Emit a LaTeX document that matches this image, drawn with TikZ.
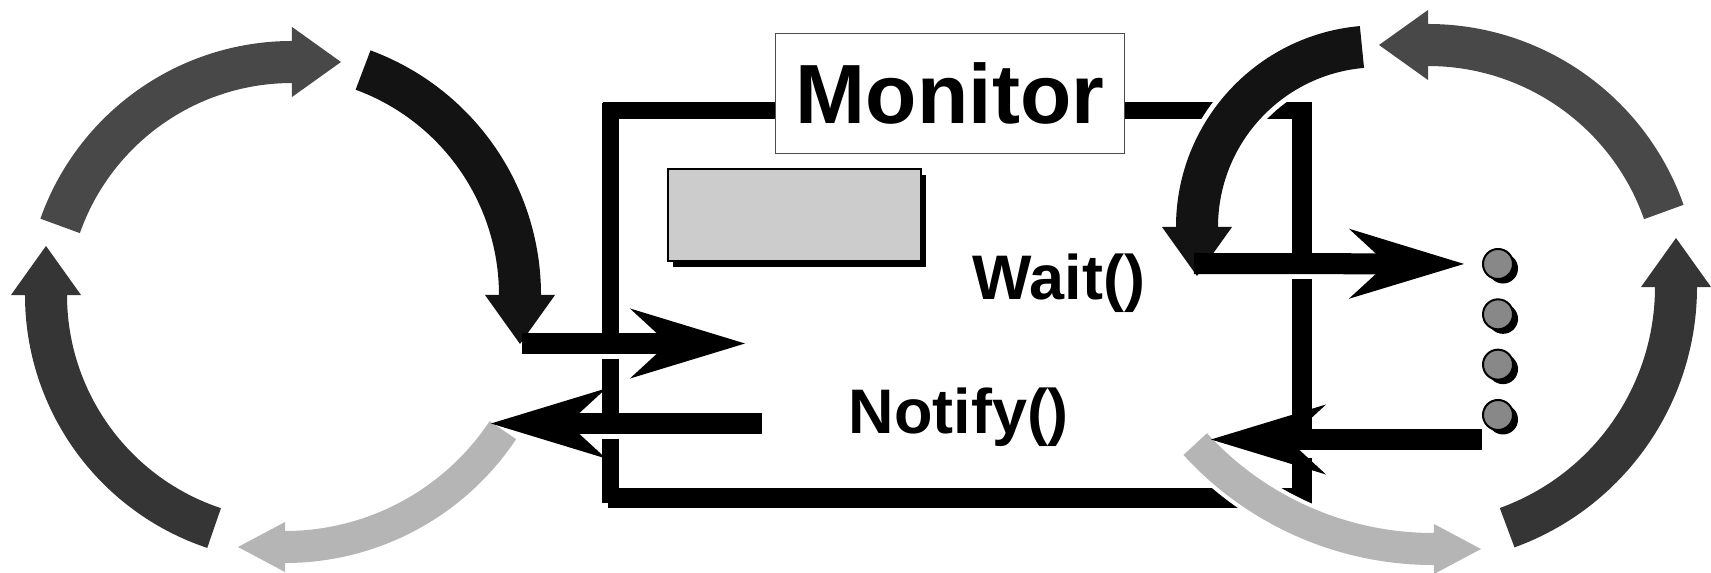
\documentclass[tikz,border=0pt]{standalone}
\usepackage{fontspec}
\setmainfont{Liberation Sans}
\usetikzlibrary{arrows.meta,positioning,shadows}
\definecolor{ringA}{HTML}{484848}
\definecolor{ringB}{HTML}{131313}
\definecolor{ringC}{HTML}{353535}
\definecolor{ringD}{HTML}{B5B5B5}
\definecolor{lockgray}{HTML}{CCCCCC}
\definecolor{dotgray}{HTML}{888888}

\begin{document}
\begin{tikzpicture}[
            x=0.01cm, y=-0.01cm,
            node distance=0.183cm,
            cycarrow/.style={line width=0.42cm, -{Triangle[length=0.49cm, width=0.70cm, line width=0pt]}},
            cycthin/.style={line width=0.32cm, -{Triangle[length=0.47cm, width=0.50cm, line width=0pt]}},
            halo/.style={preaction={draw=white, line width=#1}},
            flowarrow/.style={line width=0.21cm, -{Stealth[length=1.15cm, width=0.70cm, inset=0.38cm, line width=0pt]}},
            framebar/.style={line width=0.16cm},
            framebarthick/.style={line width=0.20cm},
            methodtext/.style={font=\bfseries\fontsize{17.9}{20}\selectfont, inner sep=0pt, anchor=base west},
            thread/.style={circle, draw, line width=0.02cm, fill=dotgray, minimum size=0.30cm, inner sep=0pt,
                drop shadow={shadow xshift=0.05cm, shadow yshift=-0.045cm, opacity=1, fill=black}}
        ]
            \useasboundingbox (0,0) rectangle (1711,573);
            \clip (0,0) rectangle (1711,573);

            % monitor frame, broken where the arrows pass
            \draw[framebar] (610.5,103) -- (610.5,345);
            \draw[framebar] (610.5,359) -- (610.5,423);
            \draw[framebar] (610.5,439) -- (610.5,503);
            \draw[framebar] (603,110.5) -- (1312,110.5);
            \draw[framebarthick] (1302,103) -- (1302,263);
            \draw[framebarthick] (1302,279) -- (1302,440);
            \draw[framebarthick] (1302,458) -- (1302,508);
            \draw[framebarthick] (608,498) -- (1312,498);

            \node[draw, line width=0.02cm, fill=lockgray, minimum width=2.53cm, minimum height=0.92cm, inner sep=0pt,
                drop shadow={shadow xshift=0.05cm, shadow yshift=-0.06cm, opacity=1, fill=black}] (lock) at (794.5,215) {};

            % left cycle
            \draw[cycarrow, ringA] (292,308) ++(199.5:246) arc[start angle=199.5, end angle=270, radius=246] -- ++(49,0);
            \draw[cycarrow, ringB] (280.3,295) ++(290.2:239.7) arc[start angle=290.2, end angle=360, radius=239.7] -- ++(0,49);
            \draw[cycarrow, ringC] (291.6,295) ++(108.4:245.6) arc[start angle=108.4, end angle=180, radius=245.6] -- ++(0,-49);
            \draw[cycthin, ringD] (285,285.4) ++(33.6:261.6) arc[start angle=33.6, end angle=90, radius=261.6] -- ++(-47,0);

            % right cycle
            \draw[cycarrow, ringB, halo=0.52cm] (1377.7,227) ++(265:180.7) arc[start angle=265, end angle=180, radius=180.7] -- ++(0,49);
            \draw[cycarrow, ringA] (1428,295) ++(-19.4:250) arc[start angle=-19.4, end angle=-90, radius=250] -- ++(-49,0);
            \draw[cycarrow, ringC] (1420,287) ++(70.1:256) arc[start angle=70.1, end angle=0, radius=256] -- ++(0,-49);
            \draw[cycthin, ringD, halo=0.40cm] (1433,227) ++(137.6:322) arc[start angle=137.6, end angle=90, radius=322] -- ++(48,0);

            % waiting threads
            \node[thread] (t1) at (1498,264) {};
            \node[thread, below=of t1] (t2) {};
            \node[thread, below=of t2] (t3) {};
            \node[thread, below=of t3] (t4) {};

            \coordinate (inA) at (522,343.5);
            \coordinate (inB) at (745,343.5);
            \coordinate (outA) at (762,423.5);
            \coordinate (outB) at (491,423.5);
            \coordinate (waitA) at (1194,263.5);
            \coordinate (backA) at (1482,439.5);
            \coordinate (backB) at (1211,439.5);
            \draw[flowarrow] (inA) -- (inB);
            \draw[flowarrow] (outA) -- (outB);
            \draw[flowarrow, shorten >=0.18cm] (waitA) -- (t1);
            \draw[flowarrow] (backA) -- (backB);

            \node[draw=black!70, line width=0.015cm, fill=white, minimum width=3.49cm, minimum height=1.20cm, inner sep=0pt,
                font=\bfseries\fontsize{23.9}{28}\selectfont] (monitor) at (950,93.5) {Monitor};
            \node[methodtext] (wait) at (972,300) {Wait()};
            \node[methodtext] (notify) at (848,433) {Notify()};
        \end{tikzpicture}
\end{document}
